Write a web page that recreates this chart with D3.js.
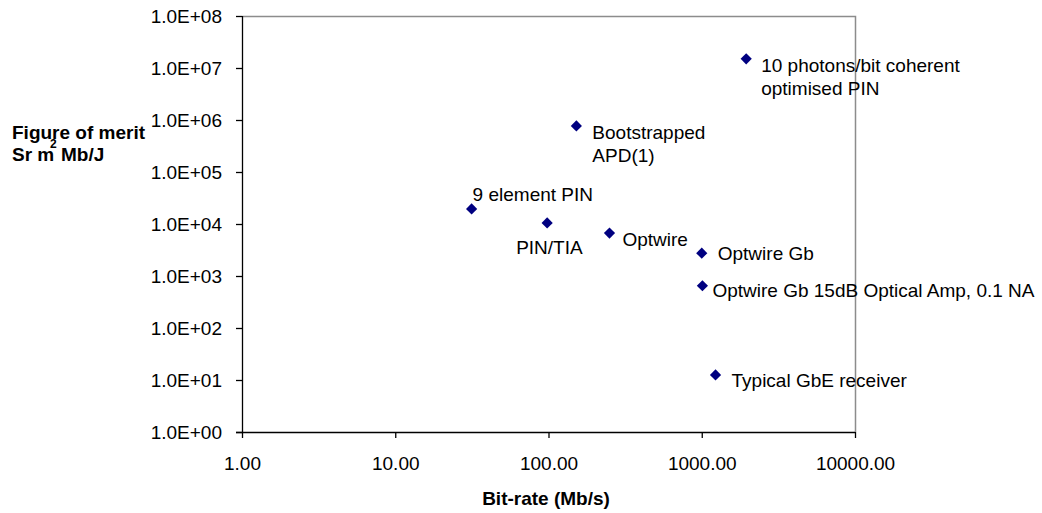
<!DOCTYPE html>
<html>
<head>
<meta charset="utf-8">
<script src="https://cdn.jsdelivr.net/npm/d3@7"></script>
<style>
  html, body { margin: 0; padding: 0; background: #fff; }
  svg { display: block; font-family: "Liberation Sans", Arial, sans-serif; }
</style>
</head>
<body>
<svg id="chart" width="1042" height="513"></svg>
<script>
// Receiver technologies: bit-rate (Mb/s) against figure of merit (Sr m^2 Mb/J)
const names = [
  ["10 photons/bit coherent", "optimised PIN"],
  ["Bootstrapped", "APD(1)"],
  ["9 element PIN"],
  ["PIN/TIA"],
  ["Optwire"],
  ["Optwire Gb"],
  ["Optwire Gb 15dB Optical Amp, 0.1 NA"],
  ["Typical GbE receiver"]
];
const bitRates = [1950, 152, 31.5, 98, 250, 1000, 1010, 1230];
const merits = [1.5e7, 7.7e5, 1.95e4, 1.05e4, 6.7e3, 2.75e3, 6.5e2, 12.5];

const xTicks = [1, 10, 100, 1000, 10000];
const yTicks = [1, 1e1, 1e2, 1e3, 1e4, 1e5, 1e6, 1e7, 1e8];

// Label placement relative to each marker: [dx, dy] in pixels
const labelOffsets = [[15, 7], [16, 6], [1, -15], [-31, 24], [13, 6], [16, 0], [10, 5], [16, 5]];

const svg = d3.select("#chart");
const plotLeft = 242, plotRight = 855, plotTop = 16, plotBottom = 432;

const x = d3.scaleLog().domain([1, 10000]).range([plotLeft, plotRight]);
const y = d3.scaleLog().domain([1, 1e8]).range([plotBottom, plotTop]);

// Plot frame: grey top and right edges
svg.append("path")
  .attr("d", `M${plotLeft},${plotTop + 0.5}H${plotRight + 0.5}V${plotBottom}`)
  .attr("fill", "none").attr("stroke", "#8c8c8c").attr("stroke-width", 1.5);

const fontSize = 19;
const titleSize = 19;
const fontFamily = "Liberation Sans, Arial, sans-serif";

// Y axis
const yAxis = svg.append("g")
  .attr("transform", `translate(${plotLeft},0)`)
  .call(d3.axisLeft(y).tickValues(yTicks).tickSize(6).tickPadding(14)
    .tickFormat(d => {
      const e = Math.round(Math.log10(d));
      return "1.0E+" + String(e).padStart(2, "0");
    }));
yAxis.select(".domain").attr("d", `M0.5,${plotTop}V${plotBottom}`).attr("stroke", "#000").attr("stroke-width", 1.3);
yAxis.selectAll(".tick line").attr("stroke", "#000").attr("stroke-width", 1.3);
yAxis.selectAll(".tick text").attr("font-size", fontSize).attr("fill", "#000")
  .attr("font-family", fontFamily);

// X axis
const xAxis = svg.append("g")
  .attr("transform", `translate(0,${plotBottom})`)
  .call(d3.axisBottom(x).tickValues(xTicks).tickSize(6).tickPadding(19)
    .tickFormat(d => d.toFixed(2)));
xAxis.select(".domain").attr("d", `M${plotLeft - 6},0.5H${plotRight}`).attr("stroke", "#000").attr("stroke-width", 1.3);
xAxis.selectAll(".tick line").attr("stroke", "#000").attr("stroke-width", 1.3);
xAxis.selectAll(".tick text").attr("font-size", fontSize).attr("fill", "#000")
  .attr("font-family", fontFamily);

// Axis titles
svg.append("text")
  .attr("x", 546).attr("y", 498).attr("dy", "0.35em")
  .attr("text-anchor", "middle")
  .attr("font-size", titleSize).attr("font-weight", "bold")
  .text("Bit-rate (Mb/s)");

const yTitle = svg.append("text")
  .attr("font-size", titleSize).attr("font-weight", "bold");
yTitle.append("tspan").attr("x", 12).attr("y", 132).attr("dy", "0.35em").text("Figure of merit");
yTitle.append("tspan").attr("x", 12).attr("y", 154).attr("dy", "0.35em").text("Sr m");
yTitle.append("tspan").attr("x", 50).attr("y", 144).attr("dy", "0.35em")
  .attr("font-size", 12).text("2");
yTitle.append("tspan").attr("x", 61).attr("y", 154).attr("dy", "0.35em").text("Mb/J");

// Markers
const pts = bitRates.map((b, i) => ({ b, m: merits[i], name: names[i], off: labelOffsets[i] }));

svg.append("g").selectAll("path")
  .data(pts)
  .join("path")
  .attr("transform", d => `translate(${x(d.b)},${y(d.m)})`)
  .attr("d", d3.symbol(d3.symbolDiamond2, 80))
  .attr("fill", "#000080");

// Point labels
const labels = svg.append("g").selectAll("text")
  .data(pts)
  .join("text")
  .attr("font-size", fontSize)
  .attr("fill", "#000");
labels.each(function (d) {
  const t = d3.select(this);
  d.name.forEach((line, k) => {
    t.append("tspan")
      .attr("x", x(d.b) + d.off[0])
      .attr("y", y(d.m) + d.off[1] + k * 23)
      .attr("dy", "0.35em")
      .text(line);
  });
});
</script>
</body>
</html>
